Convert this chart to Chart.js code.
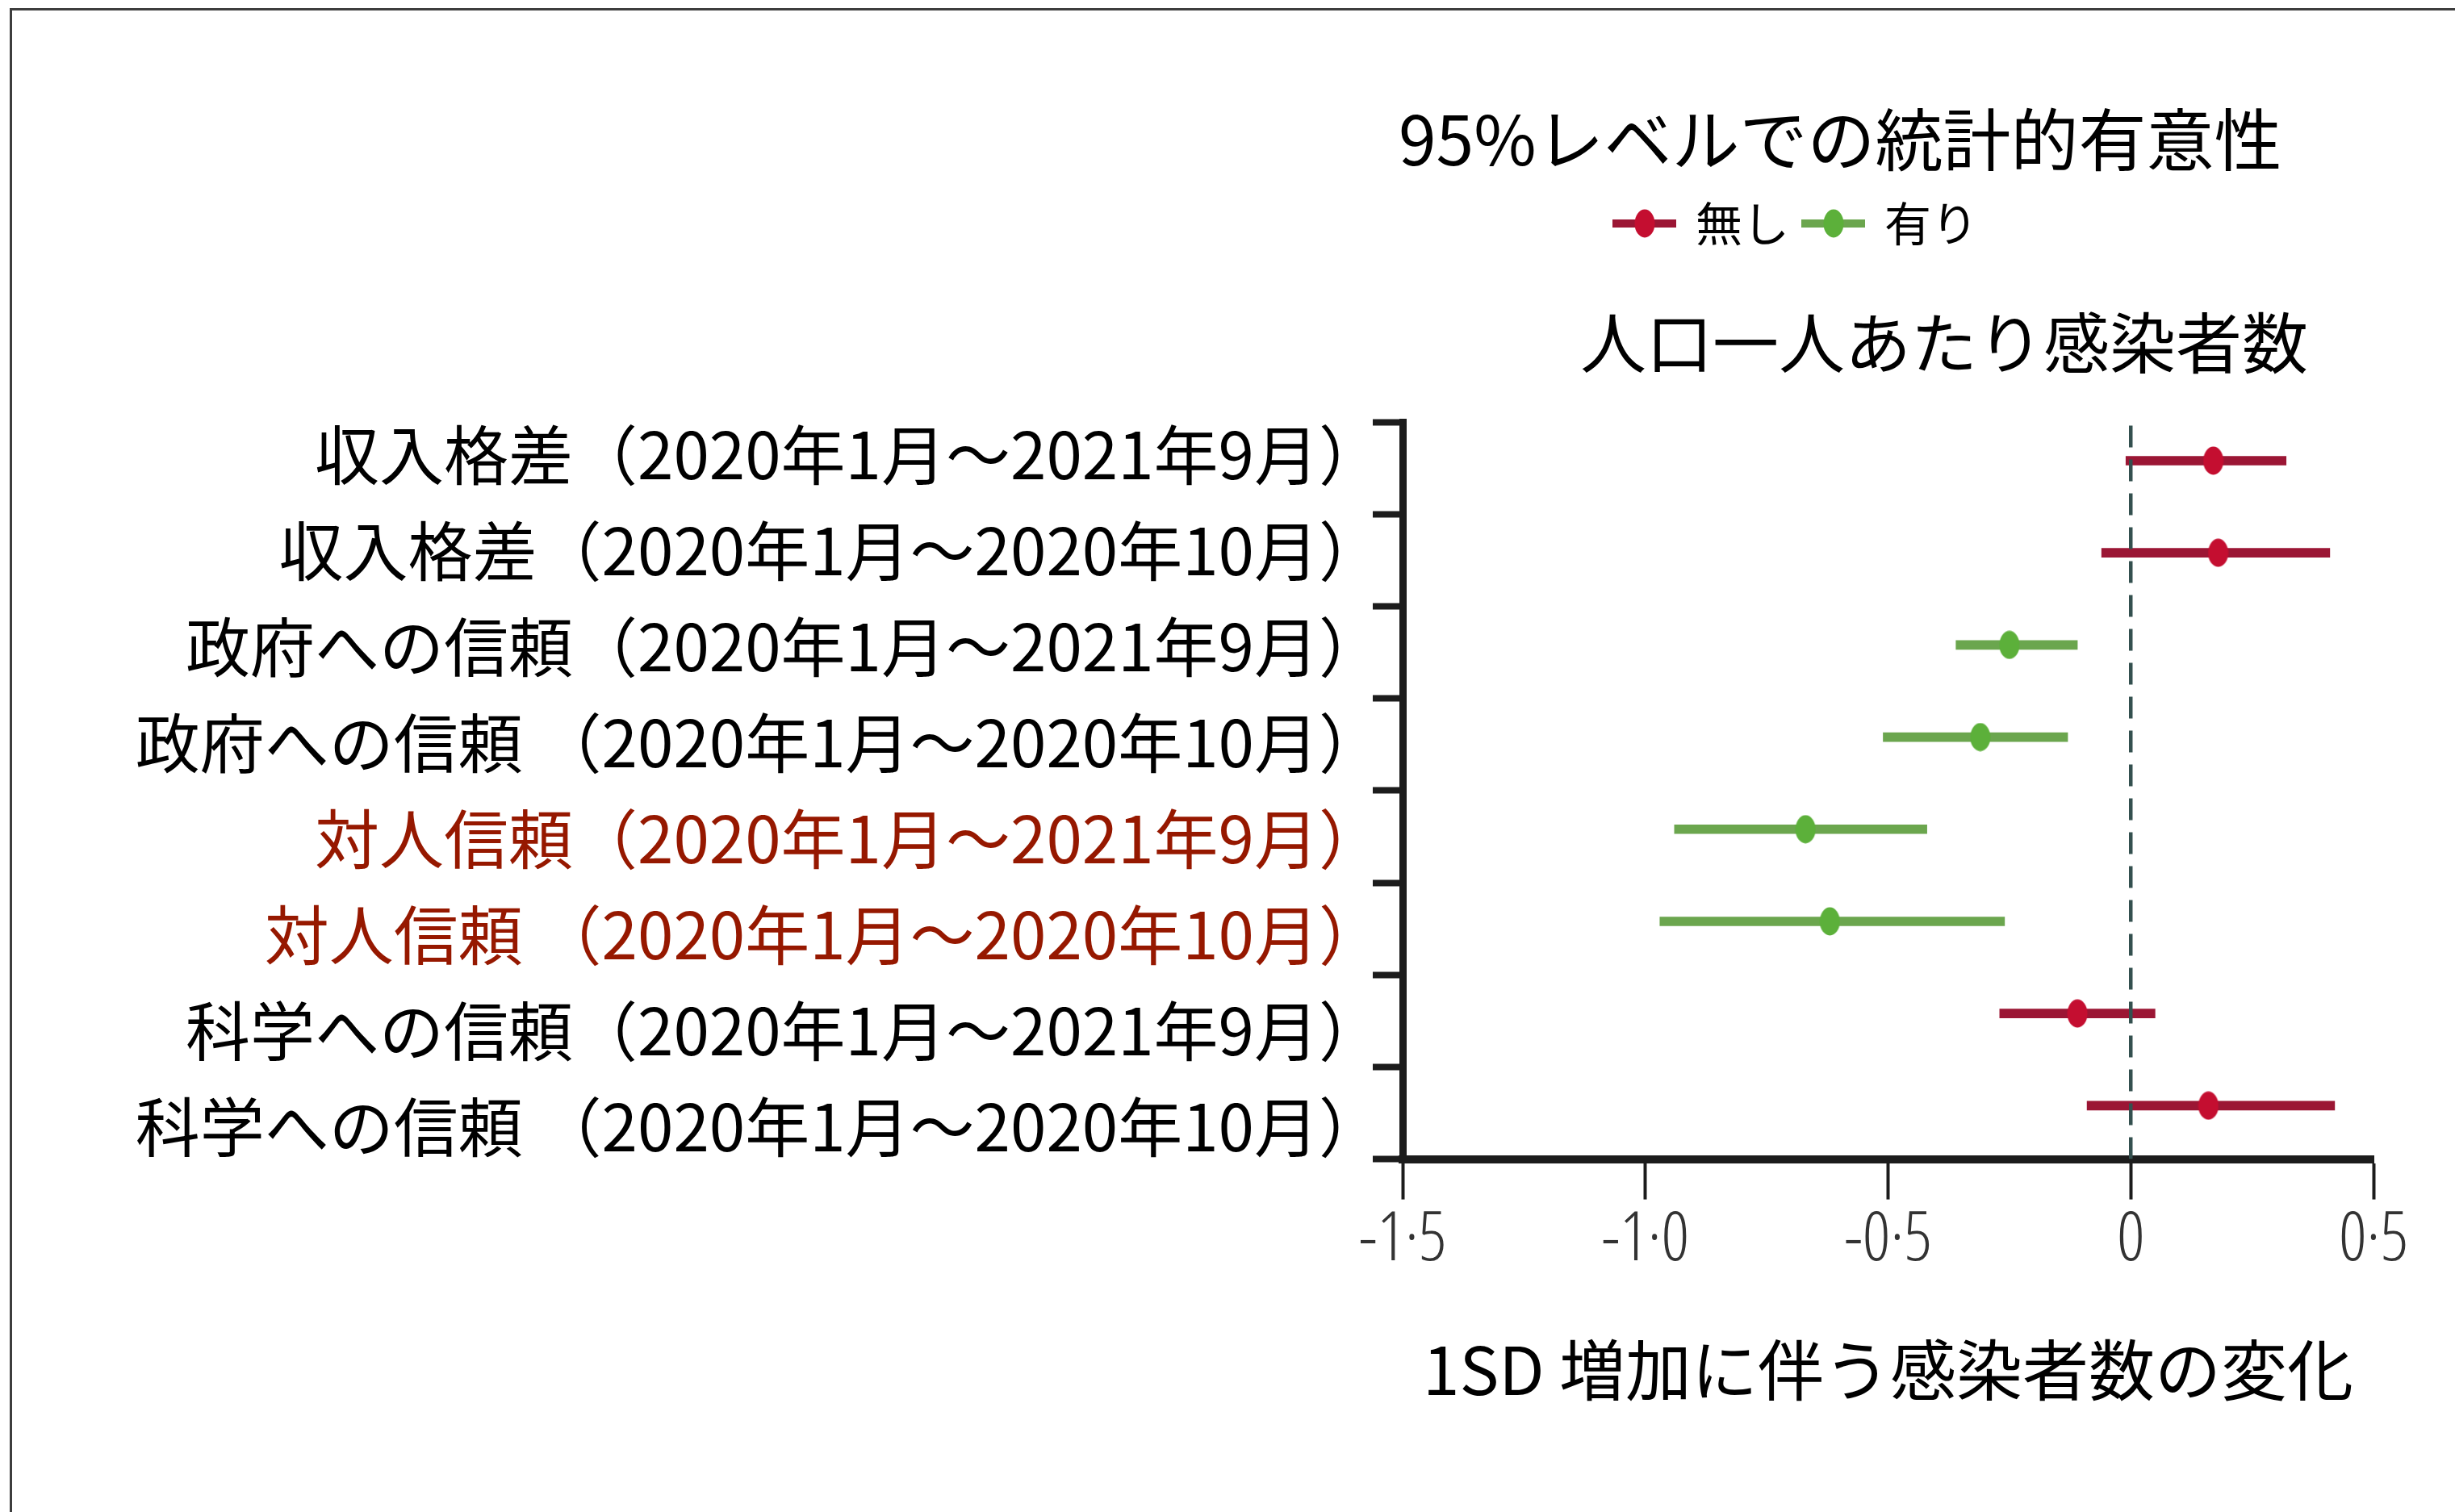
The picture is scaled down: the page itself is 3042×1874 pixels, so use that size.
<!DOCTYPE html>
<html lang="ja">
<head>
<meta charset="UTF-8">
<title>人口一人あたり感染者数</title>
<script src="https://cdn.jsdelivr.net/npm/chart.js@4"></script>
<style>
  html, body { margin: 0; padding: 0; background: #fff; overflow: hidden; }
  canvas { display: block; }
</style>
</head>
<body>
<canvas id="forest" width="3042" height="1874"></canvas>
<script>
// rows, top to bottom
const categories = [
  '収入格差（2020年1月～2021年9月）',
  '収入格差（2020年1月～2020年10月）',
  '政府への信頼（2020年1月～2021年9月）',
  '政府への信頼 （2020年1月～2020年10月）',
  '対人信頼（2020年1月～2021年9月）',
  '対人信頼 （2020年1月～2020年10月）',
  '科学への信頼（2020年1月～2021年9月）',
  '科学への信頼 （2020年1月～2020年10月）'
];
const estimates = [0.17, 0.18, -0.25, -0.31, -0.67, -0.62, -0.11, 0.16];
const lower = [-0.01, -0.06, -0.36, -0.51, -0.94, -0.97, -0.27, -0.09];
const upper = [0.32, 0.41, -0.11, -0.13, -0.42, -0.26, 0.05, 0.42];
const significant = [false, false, true, true, true, true, false, false];
const groupLabels = ['無し', '有り'];
const xTickLabels = ['-1·5', '-1·0', '-0·5', '0', '0·5'];
const titleText = '95%レベルでの統計的有意性';
const subtitleText = '人口一人あたり感染者数';
const xTitle = '1SD 増加に伴う感染者数の変化';

const RED_LINE = '#9b1634';
const RED_DOT = '#c40e30';
const GREEN_LINE = '#6ba64e';
const GREEN_DOT = '#5cb03a';
const LABEL_RED = '#961800';
const AXIS = '#1c1c1c';
const JP = '"Noto Sans CJK JP", "Noto Sans CJK SC", sans-serif';

// slightly tall oval markers
function dotImage(color, w, h) {
  const c = document.createElement('canvas');
  c.width = w;
  c.height = h;
  const g = c.getContext('2d');
  g.fillStyle = color;
  g.beginPath();
  g.ellipse(w / 2, h / 2, w / 2 - 0.5, h / 2 - 0.5, 0, 0, Math.PI * 2);
  g.fill();
  return c;
}
const redDot = dotImage(RED_DOT, 26, 36);
const greenDot = dotImage(GREEN_DOT, 26, 36);

// each row sits a little above the middle of its band
const rowValue = i => categories.length - i - 0.42;

const headings = {
  id: 'headings',
  beforeDraw(chart) {
    const { ctx, width, height } = chart;
    ctx.save();
    ctx.fillStyle = '#fff';
    ctx.fillRect(0, 0, width, height);
    ctx.strokeStyle = '#3d3d3d';
    ctx.lineWidth = 3;
    ctx.beginPath();
    ctx.moveTo(13.5, height);
    ctx.lineTo(13.5, 11.5);
    ctx.lineTo(width, 11.5);
    ctx.stroke();
    ctx.restore();
  },
  afterDraw(chart) {
    const ctx = chart.ctx;
    ctx.save();
    ctx.fillStyle = '#000';
    ctx.textBaseline = 'middle';
    ctx.textAlign = 'left';
    ctx.font = '84px ' + JP;
    ctx.fillText(titleText, 1733, 173);
    ctx.font = '82px ' + JP;
    ctx.fillText(subtitleText, 1958, 425);

    // legend: line + dot, then label
    const colors = [[RED_LINE, redDot], [GREEN_LINE, greenDot]];
    const y = 277;
    let x = 1998;
    ctx.font = '58px ' + JP;
    groupLabels.forEach((label, i) => {
      const [line, dot] = colors[i];
      ctx.fillStyle = line;
      ctx.fillRect(x, y - 5, 79, 10);
      ctx.drawImage(dot, x + 40 - dot.width / 2, y - dot.height / 2);
      ctx.fillStyle = '#000';
      ctx.fillText(label, x + 103, y);
      x += 103 + ctx.measureText(label).width + 15;
    });
    ctx.restore();
  }
};

new Chart(document.getElementById('forest'), {
  type: 'bar',
  data: {
    datasets: [
      {
        type: 'scatter',
        data: estimates.map((v, i) => ({ x: v, y: rowValue(i) })),
        pointStyle: ctx => significant[ctx.dataIndex] ? greenDot : redDot,
        pointRadius: 13,
        showLine: false,
        xAxisID: 'x',
        yAxisID: 'y'
      },
      {
        type: 'line',
        data: [{ x: 0, y: 0 }, { x: 0, y: categories.length }],
        borderColor: '#34504f',
        borderWidth: 4.5,
        borderDash: [27, 15],
        pointRadius: 0,
        fill: false,
        xAxisID: 'x',
        yAxisID: 'y'
      },
      {
        type: 'bar',
        data: lower.map((lo, i) => ({ x: [lo, upper[i]], y: rowValue(i) })),
        backgroundColor: significant.map(s => s ? GREEN_LINE : RED_LINE),
        barThickness: 11,
        borderWidth: 0,
        xAxisID: 'x',
        yAxisID: 'y'
      }
    ]
  },
  options: {
    indexAxis: 'y',
    responsive: false,
    devicePixelRatio: 1,
    animation: false,
    layout: { padding: { left: 0, right: 101, top: 523, bottom: 127 } },
    plugins: {
      legend: { display: false },
      tooltip: { enabled: false }
    },
    scales: {
      x: {
        type: 'linear',
        min: -1.5,
        max: 0.5,
        ticks: {
          stepSize: 0.5,
          padding: 0,
          color: '#333',
          font: { family: '"Open Sans", "DejaVu Sans Condensed", sans-serif', size: 85, weight: '300 condensed' },
          callback: (v, i) => xTickLabels[i]
        },
        grid: { drawOnChartArea: false, tickLength: 50, tickWidth: 4, tickColor: AXIS },
        border: { width: 10, color: AXIS },
        title: {
          display: true,
          text: xTitle,
          color: '#000',
          font: { family: JP, size: 82 },
          padding: { top: 60, bottom: 0 }
        }
      },
      y: {
        type: 'linear',
        min: 0,
        max: categories.length,
        offset: false,
        weight: 0,
        ticks: { display: false, stepSize: 1 },
        grid: { offset: false, drawOnChartArea: false, tickLength: 37, tickWidth: 8, tickColor: AXIS },
        border: { width: 9, color: AXIS }
      },
      yl: {
        type: 'linear',
        axis: 'y',
        position: 'left',
        offset: false,
        weight: 1,
        reverse: true,
        min: -0.338,
        max: 7.337,
        afterBuildTicks: s => { s.ticks = categories.map((_, i) => ({ value: i })); },
        afterFit: s => { s.width = 1701; },
        ticks: {
          autoSkip: false,
          padding: -13,
          font: { family: JP, size: 80 },
          color: ctx => categories[ctx.index].startsWith('対人信頼') ? LABEL_RED : '#000',
          callback: v => categories[v]
        },
        grid: { display: false, drawTicks: false },
        border: { display: false }
      }
    }
  },
  plugins: [headings]
});
</script>
</body>
</html>
